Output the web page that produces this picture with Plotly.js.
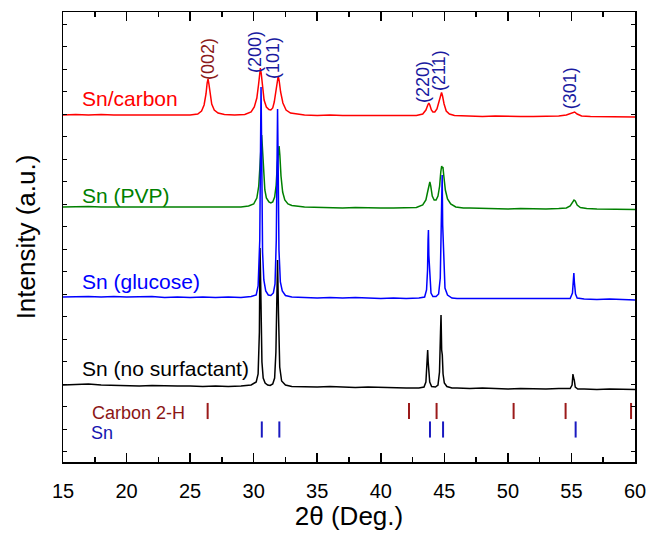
<!DOCTYPE html>
<html>
<head>
<meta charset="utf-8">
<script src="https://cdn.plot.ly/plotly-3.0.1.min.js"></script>
<style>html,body{margin:0;padding:0;background:#fff;}#chart{width:651px;height:534px;}</style>
</head>
<body>
<div id="chart"></div>
<script>
// ---- Data (2theta in degrees, intensity in a.u. above each pattern's baseline offset) ----
const blackX = [15,16,17,18,19,20,21,22,23,24,25,26,27,28,29,29.8,30.2,30.35,30.45,30.5,30.55,30.65,30.75,30.9,31.1,31.3,31.5,31.65,31.75,31.82,31.88,31.95,32.05,32.2,32.5,33,34,35,36,37,38,39,40,41,42,43,43.4,43.55,43.65,43.69,43.73,43.78,43.85,44.0,44.3,44.5,44.62,44.7,44.74,44.79,44.84,44.9,45.0,45.2,45.6,46,47,48,49,50,51,52,53,54,54.9,55.05,55.12,55.17,55.22,55.3,55.5,56,57,58,59,60];
const blackY = [5,5.5,6,5,4.5,4.5,4,4.5,4,4,4,3.5,4,3.5,4,5,8,16,58,142,108,28,12,7,5,4.5,6,12,38,98,130,78,23,9,5,3.5,3,3,3.5,3,2.5,3,2.5,2.5,2,2,3,8,26,40,28,22,8,3.5,3,5,18,58,75,40,35,16,7,3.5,2,2,1.5,2,1.5,1,1.5,1,1,1.5,1.5,5,16,12,10,3,1,1,0.5,1,0.5,0.5];

const blueX = [15,16,17,18,19,20,21,22,23,24,25,26,27,28,29,29.8,30.2,30.35,30.48,30.53,30.58,30.63,30.7,30.8,30.95,31.15,31.35,31.55,31.68,31.78,31.83,31.88,31.93,31.99,32.1,32.25,32.5,33,34,35,36,37,38,39,40,41,42,43,43.45,43.6,43.68,43.72,43.75,43.78,43.81,43.86,43.95,44.1,44.35,44.55,44.68,44.75,44.8,44.83,44.87,44.9,44.95,45.05,45.25,45.6,46,47,48,49,50,51,52,53,54,54.9,55.08,55.15,55.19,55.23,55.26,55.32,55.45,56,57,58,59,60];
const blueY = [3,3.5,3.5,3,3.5,3,3,3.5,2.5,3,2.5,3,2.5,3,2.5,3.5,5,14,60,150,213,150,48,20,9,5,4.5,7,16,60,130,191,130,50,18,9,4.5,3,2.5,2,2.5,2,2.5,2,1.5,2,1.5,2,3,10,30,60,70,45,36,20,7,3.5,3.5,6,22,70,122,125,75,64,30,12,5,2,1.5,1.5,1,1.5,1,1,1.5,1,1,1.5,7,20,27,18,15,6,2,1,0.5,1,0.5,0];

const greenX = [15,16,17,18,19,20,21,22,23,24,25,26,27,28,29,29.6,30.0,30.25,30.4,30.5,30.57,30.63,30.69,30.77,30.88,31.0,31.2,31.35,31.5,31.65,31.77,31.87,31.95,32.0,32.06,32.15,32.28,32.45,32.7,33,34,35,36,37,38,39,40,41,42,42.8,43.3,43.55,43.7,43.8,43.86,43.93,44.05,44.2,44.35,44.5,44.63,44.72,44.79,44.84,44.89,44.96,45.08,45.25,45.5,45.9,46.5,47,48,49,50,51,52,53,54,54.6,54.9,55.1,55.2,55.3,55.45,55.7,56.2,57,58,59,60];
const greenY = [3,3.5,3.5,3,3,3,3,2.5,3,2.5,2.5,2.5,2.5,2.5,3,4,6,12,24,45,68,75,62,38,20,12,8,7,8,13,25,48,62,64,55,34,18,10,6,4.5,3,2.5,2.5,2,2.5,2,2,2,2,2.5,5,10,19,26,28,24,14,10,10,14,24,38,44,42,43,34,20,11,6,3,2,2,1.5,1.5,1,1.5,1,1,1.5,2,4,8,10,9,5,2.5,1.5,1,1,0.5,0.5];

const redX = [15,16,17,18,19,20,21,22,23,24,25,25.6,25.9,26.1,26.25,26.34,26.41,26.48,26.57,26.7,26.9,27.2,27.7,28.5,29.3,29.8,30.05,30.25,30.38,30.47,30.53,30.6,30.7,30.82,31.0,31.2,31.35,31.5,31.62,31.74,31.85,31.93,32.01,32.12,32.3,32.55,32.9,33.5,34,35,36,37,38,39,40,41,42,42.8,43.3,43.55,43.7,43.78,43.86,43.98,44.1,44.25,44.42,44.58,44.7,44.78,44.86,44.98,45.15,45.4,45.8,46.5,47,48,49,50,51,52,53,54,54.6,54.95,55.15,55.25,55.45,55.8,56.5,57,58,59,60];
const redY = [3,3.5,3,3.5,3,3,3.5,3,3,3,3,4,7,13,24,35,39,34,24,14,8,5,3.5,3,3.5,6,11,20,33,46,50,44,30,18,11,8.5,8,10,16,28,39,42,37,26,15,8,5,3.5,3,2.5,3,2.5,2.5,2.5,2,2.5,2,2.5,4,8,13,15,13,8,6,6,9,17,24,25.5,22,14,7,4,2.5,2,2,1.5,2,1.5,1.5,1.5,1.5,2,3,5,6,6,4,2,1.5,1.5,1,1,1];

// Reference line positions (2theta)
const carbonRef = [26.38, 42.22, 44.39, 50.45, 54.54, 59.69];
const snRef = [30.64, 32.02, 43.87, 44.90, 55.33];

// Miller index labels
const hklText = ['(002)', '(200)', '(101)', '(220)', '(211)', '(301)'];
const hklX = [26.41, 30.1, 31.52, 43.32, 44.58, 54.9];

const seriesNames = ['Sn (no surfactant)', 'Sn (glucose)', 'Sn (PVP)', 'Sn/carbon'];
const xTickVals = [15, 20, 25, 30, 35, 40, 45, 50, 55, 60];

// ---- Presentation (stacking offsets, colors, label placement) ----
const offsets = {black: 72, blue: 162, green: 252, red: 344};
const shift = (arr, o) => arr.map(v => v + o);

const lineW = 1.5;
const traces = [
  {x: redX, y: shift(redY, offsets.red), mode: 'lines', line: {color: '#ff0000', width: lineW}, name: seriesNames[3]},
  {x: greenX, y: shift(greenY, offsets.green), mode: 'lines', line: {color: '#008000', width: lineW}, name: seriesNames[2]},
  {x: blackX, y: shift(blackY, offsets.black), mode: 'lines', line: {color: '#000000', width: lineW}, name: seriesNames[0]},
  {x: blueX, y: shift(blueY, offsets.blue), mode: 'lines', line: {color: '#0000ff', width: lineW}, name: seriesNames[1]},
  {x: carbonRef, y: carbonRef.map(() => 51), mode: 'markers', cliponaxis: false,
   marker: {symbol: 'line-ns', size: 11.5, line: {color: '#9b1a1a', width: 2}}, name: 'Carbon 2-H'},
  {x: snRef, y: snRef.map(() => 32.5), mode: 'markers', cliponaxis: false,
   marker: {symbol: 'line-ns', size: 11.5, line: {color: '#1a1ac0', width: 2}}, name: 'Sn'}
];

const FONT = 'Liberation Sans, Arial, sans-serif';
const hklY = [403, 410, 404, 380, 392, 374];
const hklColor = ['#8b1a1a', '#1a1aa0', '#1a1aa0', '#1a1aa0', '#1a1aa0', '#1a1aa0'];
const annotations = hklText.map((t, i) => ({
  text: t, x: hklX[i], y: hklY[i], xref: 'x', yref: 'y', showarrow: false,
  textangle: -90, font: {family: FONT, size: 18, color: hklColor[i]}, xanchor: 'center', yanchor: 'middle'
}));
const lab = (t, x, y, c, s) => ({text: t, x: x, y: y, xref: 'x', yref: 'y', showarrow: false,
  xanchor: 'left', yanchor: 'middle', font: {family: FONT, size: s, color: c}});
annotations.push(lab(seriesNames[3], 16.35, 364, '#ff0000', 21));
annotations.push(lab(seriesNames[2], 16.35, 267, '#008000', 21));
annotations.push(lab(seriesNames[1], 16.35, 181, '#0000ff', 21));
annotations.push(lab(seriesNames[0], 16.35, 94, '#000000', 21));
annotations.push(lab('Carbon 2-H', 17.1, 49, '#8b1515', 18));
annotations.push(lab('Sn', 17.05, 29, '#1515b0', 18));

const layout = {
  width: 651, height: 534,
  margin: {l: 63, r: 16, t: 12, b: 72},
  paper_bgcolor: '#ffffff', plot_bgcolor: '#ffffff',
  showlegend: false,
  font: {family: FONT, color: '#000'},
  xaxis: {
    range: [15, 60], tickvals: xTickVals, ticktext: xTickVals.map(String),
    ticks: 'inside', ticklen: 9, tickwidth: 1.5, tickcolor: '#000',
    minor: {dtick: 2.5, tick0: 15, ticks: 'inside', ticklen: 5, tickwidth: 1.5, tickcolor: '#000'},
    showline: true, linecolor: '#000', linewidth: 1.5, mirror: 'ticks',
    showgrid: false, zeroline: false,
    tickfont: {family: FONT, size: 20, color: '#000'}, ticklabelstandoff: 10,
    title: {text: '2θ (Deg.)', font: {family: FONT, size: 26, color: '#000'}, standoff: 6}
  },
  yaxis: {
    range: [0, 450], tick0: 10.3, dtick: 22.5,
    ticks: 'inside', ticklen: 4, tickwidth: 1, tickcolor: '#000',
    showticklabels: false,
    showline: true, linecolor: '#000', linewidth: 1.5, mirror: 'ticks',
    showgrid: false, zeroline: false,
    title: {text: 'Intensity (a.u.)', font: {family: FONT, size: 26, color: '#000'}, standoff: 18}
  },
  annotations: annotations
};

Plotly.newPlot('chart', traces, layout, {displayModeBar: false, staticPlot: true});
</script>
</body>
</html>
